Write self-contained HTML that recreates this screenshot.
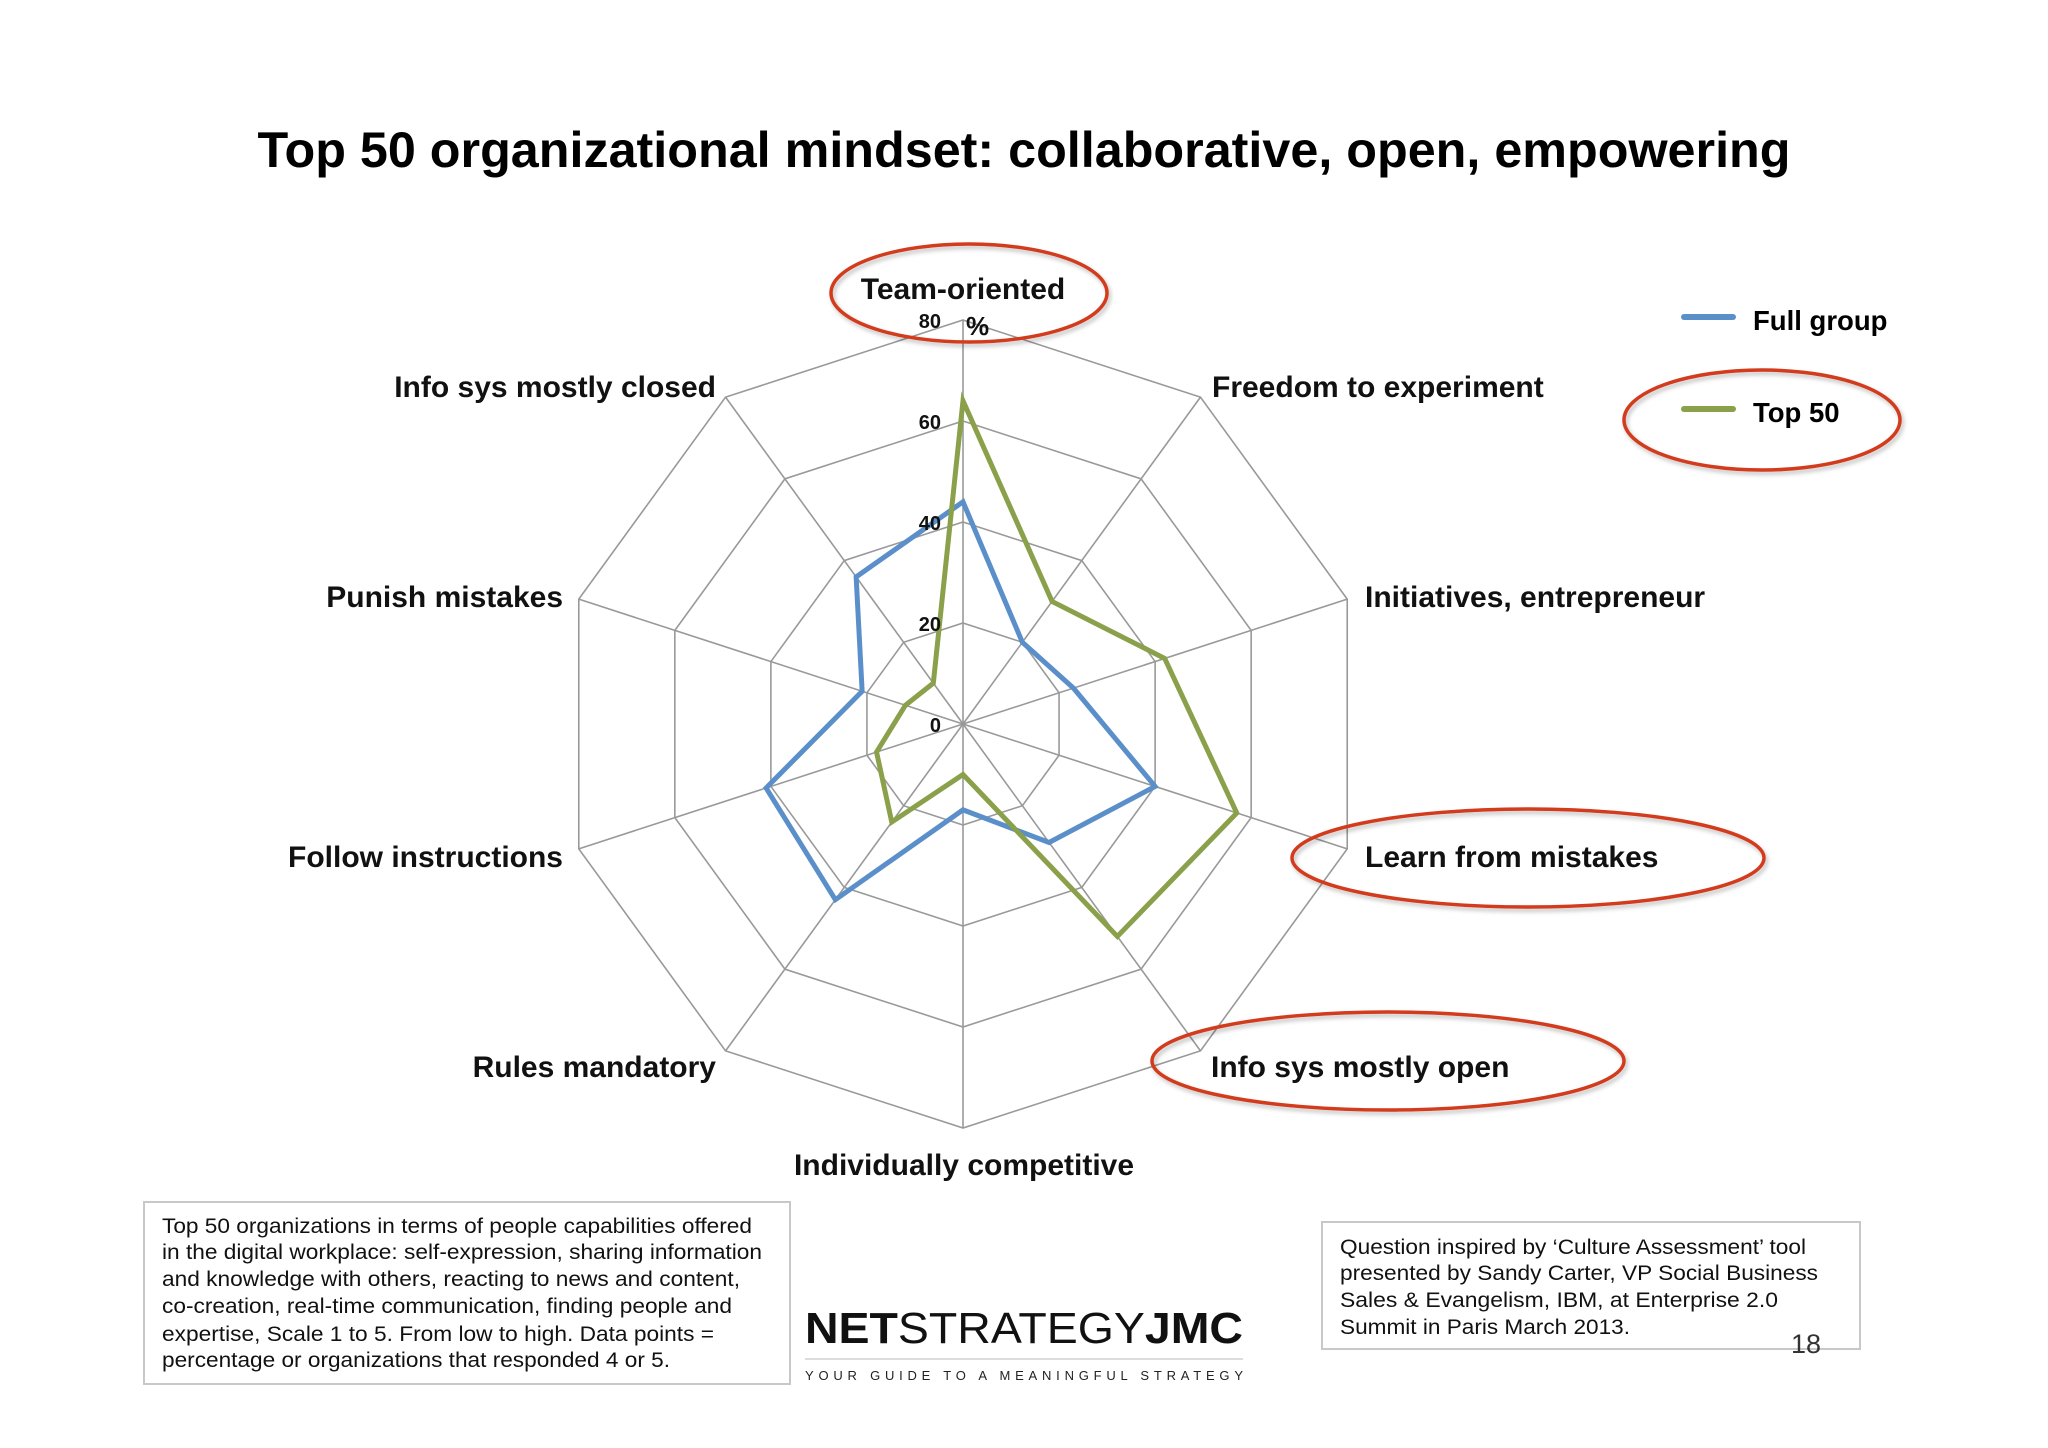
<!DOCTYPE html>
<html><head><meta charset="utf-8"><style>
html,body{margin:0;padding:0;background:#fff;}
svg{display:block;font-family:"Liberation Sans",Arial,sans-serif;}
</style></head><body>
<svg id="chart" width="2048" height="1448" viewBox="0 0 2048 1448">
<defs><filter id="sh" x="-10%" y="-20%" width="120%" height="140%"><feDropShadow dx="2" dy="3" stdDeviation="2" flood-color="#000" flood-opacity="0.25"/></filter></defs>
<text x="1024" y="167" font-size="50" font-weight="bold" text-anchor="middle" textLength="1533" lengthAdjust="spacingAndGlyphs">Top 50 organizational mindset: collaborative, open, empowering</text>
<g id="grid"></g>
<g id="series"></g>
<g id="labels"></g>
<g id="ticks"></g>
<g>
<line x1="1684" y1="317" x2="1733" y2="317" stroke="#5b8fc9" stroke-width="6" stroke-linecap="round"/>
<text x="1753" y="330" font-size="27.5" font-weight="bold">Full group</text>
<line x1="1684" y1="409" x2="1733" y2="409" stroke="#8ba04a" stroke-width="6" stroke-linecap="round"/>
<text x="1753" y="422" font-size="27.5" font-weight="bold">Top 50</text>
</g>
<g fill="none" stroke="#d23a1c" stroke-width="3.5" filter="url(#sh)">
<ellipse cx="969" cy="293" rx="138" ry="49"/>
<ellipse cx="1762" cy="420" rx="138" ry="50"/>
<ellipse cx="1528" cy="858" rx="236" ry="49"/>
<ellipse cx="1388" cy="1061" rx="236" ry="49"/>
</g>
<g>
<rect x="144" y="1202" width="646" height="182" fill="#fff" stroke="#c8c8c8" stroke-width="2"/>
<g font-size="21" fill="#111">
<text x="162" y="1233" textLength="590" lengthAdjust="spacingAndGlyphs">Top 50 organizations in terms of people capabilities offered</text>
<text x="162" y="1259" textLength="600" lengthAdjust="spacingAndGlyphs">in the digital workplace: self-expression, sharing information</text>
<text x="162" y="1286" textLength="578" lengthAdjust="spacingAndGlyphs">and knowledge with others, reacting to news and content,</text>
<text x="162" y="1313" textLength="570" lengthAdjust="spacingAndGlyphs">co-creation, real-time communication, finding people and</text>
<text x="162" y="1341" textLength="552" lengthAdjust="spacingAndGlyphs">expertise, Scale 1 to 5. From low to high. Data points =</text>
<text x="162" y="1367" textLength="508" lengthAdjust="spacingAndGlyphs">percentage or organizations that responded 4 or 5.</text>
</g></g>
<g>
<rect x="1322" y="1222" width="538" height="127" fill="#fff" stroke="#c8c8c8" stroke-width="2"/>
<g font-size="21" fill="#111">
<text x="1340" y="1254" textLength="466" lengthAdjust="spacingAndGlyphs">Question inspired by ‘Culture Assessment’ tool</text>
<text x="1340" y="1280" textLength="478" lengthAdjust="spacingAndGlyphs">presented by Sandy Carter, VP Social Business</text>
<text x="1340" y="1307" textLength="438" lengthAdjust="spacingAndGlyphs">Sales &amp; Evangelism, IBM, at Enterprise 2.0</text>
<text x="1340" y="1334" textLength="290" lengthAdjust="spacingAndGlyphs">Summit in Paris March 2013.</text>
</g>
<text x="1806" y="1353" font-size="27" fill="#333" text-anchor="middle">18</text>
</g>
<g>
<text x="805" y="1343" font-size="44" textLength="438" lengthAdjust="spacingAndGlyphs" fill="#111"><tspan font-weight="bold">NET</tspan><tspan font-weight="normal">STRATEGY</tspan><tspan font-weight="bold">JMC</tspan></text>
<line x1="805" y1="1359" x2="1243" y2="1359" stroke="#ddd" stroke-width="2"/>
<text x="805" y="1380" font-size="13" textLength="438" lengthAdjust="spacing" fill="#222">YOUR GUIDE TO A MEANINGFUL STRATEGY</text>
</g>
</svg>
<script>
const categories = ["Team-oriented","Freedom to experiment","Initiatives, entrepreneur","Learn from mistakes","Info sys mostly open","Individually competitive","Rules mandatory","Follow instructions","Punish mistakes","Info sys mostly closed"];
const fullGroup = [44, 20, 23, 40, 29, 17, 43, 41, 21, 36];
const top50 = [64, 30, 42, 57, 52, 10, 24, 18, 12, 10];
const tickValues = [0, 20, 40, 60, 80];
const maxValue = 80;

const NS = "http://www.w3.org/2000/svg";
const cx = 963, cy = 724, R = 404;
function ang(i){ return -Math.PI/2 + i*2*Math.PI/categories.length; }
function pt(i, v){ const r = v/maxValue*R; return [cx + r*Math.cos(ang(i)), cy + r*Math.sin(ang(i))]; }
function mk(tag, attrs){ const e = document.createElementNS(NS, tag); for (const k in attrs) e.setAttribute(k, attrs[k]); return e; }

const grid = document.getElementById('grid');
tickValues.forEach(t => {
  if (t === 0) return;
  const pts = categories.map((c,i) => pt(i,t).join(',')).join(' ');
  const p = mk('polygon', {points: pts, fill: 'none', stroke: '#999', 'stroke-width': 1.6});
  
  
  grid.appendChild(p);
});
categories.forEach((c,i) => {
  const [x,y] = pt(i, maxValue);
  const l = mk('line', {x1: cx, y1: cy, x2: x, y2: y, stroke: '#999', 'stroke-width': 1.6});
  
  
  grid.appendChild(l);
});

const series = document.getElementById('series');
[[fullGroup, '#5b8fc9', 'full-group'], [top50, '#8ba04a', 'top-50']].forEach(([vals, col, nm]) => {
  const pts = vals.map((v,i) => pt(i,v).join(',')).join(' ');
  const p = mk('polygon', {points: pts, fill: 'none', stroke: col, 'stroke-width': 5, 'stroke-linejoin': 'miter'});
  
  
  series.appendChild(p);
});

const labelPos = [[963,299,'middle'],[1212,397,'start'],[1365,607,'start'],[1365,867,'start'],[1211,1077,'start'],[964,1175,'middle'],[716,1077,'end'],[563,867,'end'],[563,607,'end'],[716,397,'end']];
const labels = document.getElementById('labels');
categories.forEach((c,i) => {
  const t = mk('text', {x: labelPos[i][0], y: labelPos[i][1], 'text-anchor': labelPos[i][2], 'font-size': 30, 'font-weight': 'bold', fill: '#111'});
  t.textContent = c;
  
  
  labels.appendChild(t);
});

const ticks = document.getElementById('ticks');
tickValues.forEach(v => {
  const y = cy - v/maxValue*R + 8;
  const t = mk('text', {x: 941, y: y, 'text-anchor': 'end', 'font-size': 20, 'font-weight': 'bold', fill: '#111'});
  t.textContent = v;
  
  
  ticks.appendChild(t);
});
const pc = mk('text', {x: 966, y: 335, 'font-size': 26, 'font-weight': 'bold', fill: '#111'});
pc.textContent = '%';


ticks.appendChild(pc);
</script>
</body></html>
